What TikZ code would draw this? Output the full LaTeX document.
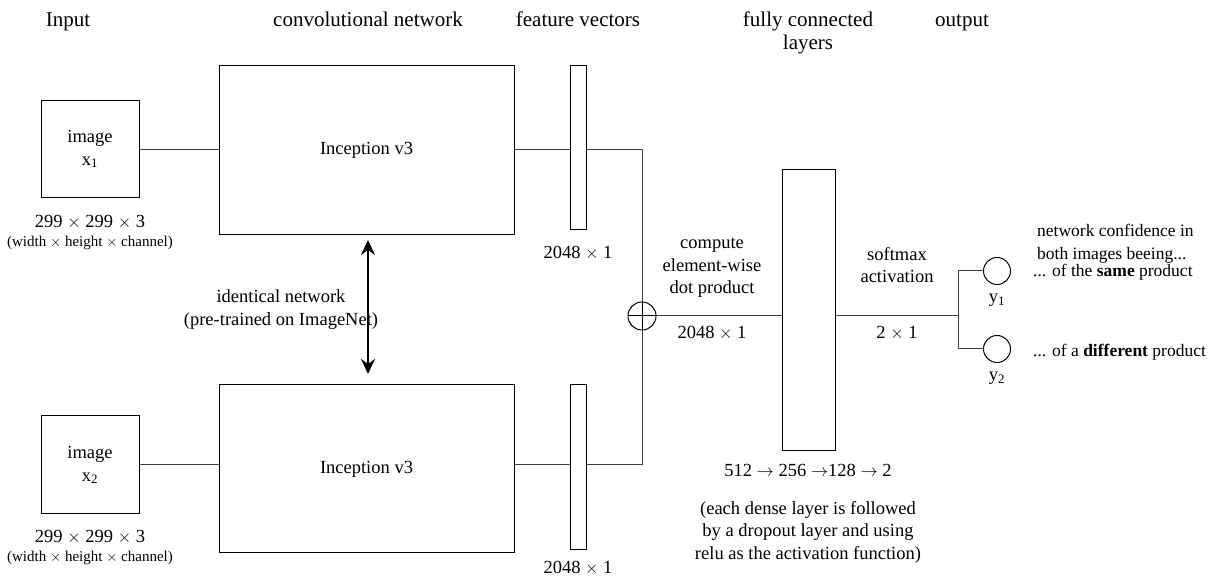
\documentclass[tikz,border=0pt]{standalone}
\usepackage{fontspec}
\setmainfont{Liberation Serif}
\usepackage{tikz}
\usetikzlibrary{positioning,arrows.meta}
\tikzset{every node/.style={font=\fontsize{18.5}{22.5}\selectfont, inner sep=1pt, align=center}}
\tikzset{head/.style={font=\fontsize{21}{23}\selectfont, anchor=base}}
\tikzset{small/.style={font=\fontsize{15}{18}\selectfont}}
\tikzset{side/.style={font=\fontsize{17.5}{23}\selectfont, anchor=west, align=left}}
\tikzset{box/.style={draw, line width=1pt, minimum width=#1}, box/.default=98pt}
\tikzset{conn/.style={line width=1pt, draw=black!75}}
\tikzset{neuron/.style={draw, circle, line width=1pt, minimum size=27pt, inner sep=0pt}}
\newcommand{\sx}[1]{\textsubscript{#1}}

\begin{document}
\begin{tikzpicture}[x=1pt, y=1pt, node distance=4pt]
\useasboundingbox (0,0) rectangle (1218,577);
%--------------------
% the headers
%--------------------
\node[head](hin) at (68,550){Input};
\node[head](hconv) at (368,550){convolutional network};
\node[head](hfeat) at (578,550){feature vectors};
\node[head](hfc) at (808,550){fully connected};
\node[head](hfc2) at (808,527){layers};
\node[head](hout) at (962,550){output};

%--------------------
% upper branch
%--------------------
\node[box, minimum height=97pt](img1) at (90,428){image\\x\sx{1}};
\node(size1) at (90,355){299 $\times$ 299 $\times$ 3};
\node[small](wh1)[below=5pt of size1]{(width $\times$ height $\times$ channel)};
\node[box=295pt, minimum height=169pt](inc1) at (366.5,426.5){Inception v3};
\node[box=16pt, minimum height=164pt](fv1) at (578,429){};
\node(fvs1) at (578,324){2048 $\times$ 1};

%--------------------
% lower branch
%--------------------
\node[box, minimum height=98pt](img2) at (90,112){image\\x\sx{2}};
\node(size2) at (90,40){299 $\times$ 299 $\times$ 3};
\node[small](wh2)[below=5pt of size2]{(width $\times$ height $\times$ channel)};
\node[box=295pt, minimum height=168pt](inc2) at (366.5,108){Inception v3};
\node[box=16pt, minimum height=165pt](fv2) at (578,109.5){};
\node(fvs2) at (578,9){2048 $\times$ 1};

\draw[line width=1.2pt, {Stealth[length=15pt,width=14pt]}-{Stealth[length=15pt,width=14pt]}] (368,337) -- (368,203);
\node(ident) at (281,267.5){identical network\\(pre-trained on ImageNet)};

%--------------------
% merge and dense layers
%--------------------
\node[neuron, minimum size=28pt](plus) at (642,261){};
\draw[line width=1pt] (plus.north) -- (plus.south) (plus.west) -- (plus.east);
\node[box=53pt, minimum height=281pt](fc) at (808.5,266.5){};
\node(fcs) at (808,107){512 $\rightarrow$ 256 $\rightarrow$128 $\rightarrow$ 2};
\node(fcnote) at (808,45){(each dense layer is followed\\by a dropout layer and using\\relu as the activation function)};

\draw[conn] (img1.east |- 0,427) -- (inc1.west |- 0,427);
\draw[conn] (img2.east |- 0,112) -- (inc2.west |- 0,112);
\draw[conn] (inc1.east |- 0,427) -- (fv1.west |- 0,427);
\draw[conn] (inc2.east |- 0,112) -- (fv2.west |- 0,112);
\draw[conn] (fv1.east |- 0,427) -| (plus.north);
\draw[conn] (fv2.east |- 0,112) -| (plus.south);
\draw[conn] (plus) -- (fc.west |- plus);
\node(dot) at (712,309){compute\\element-wise\\dot product};
\node(dots) at (712,244){2048 $\times$ 1};

%--------------------
% output
%--------------------
\coordinate(split) at (958,261);
\node[neuron](y1) at (997,306){};
\node[neuron](y2) at (997,228){};
\node(ly1)[below=8pt of y1]{y\sx{1}};
\node(ly2)[below=8pt of y2]{y\sx{2}};
\draw[conn] (fc.east |- split) -- (split);
\node(soft) at (897,312){softmax\\activation};
\node(softs) at (897,244){2 $\times$ 1};
\draw[conn] (split) |- (y1);
\draw[conn] (split) |- (y2);
\node[side](conf) at (1036,333){network confidence in\\both images beeing...};
\node[side](same) at (1032,305){... of the \textbf{same} product};
\node[side](diff) at (1032,225){... of a \textbf{different} product};
\end{tikzpicture}
\end{document}
